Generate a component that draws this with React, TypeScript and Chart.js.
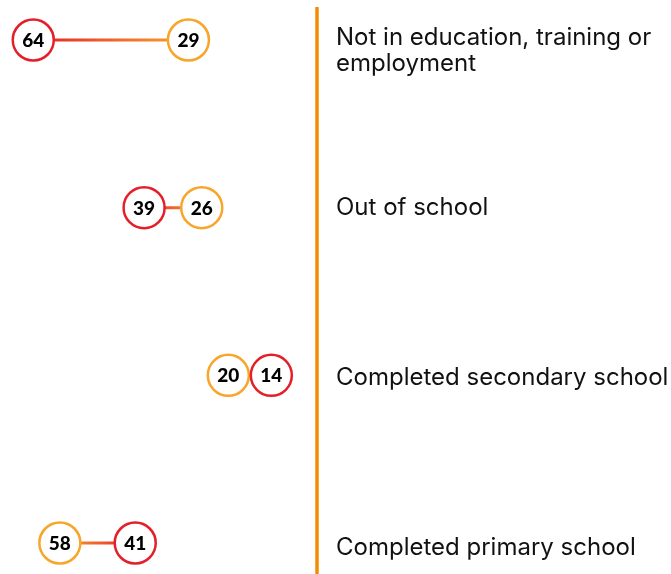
import React, { useEffect, useRef } from "react";
import { Chart, registerables } from "chart.js";
Chart.register(...registerables);

const categories: string[][] = [
  ["Not in education, training or", "employment"],
  ["Out of school"],
  ["Completed secondary school"],
  ["Completed primary school"],
];
const redValues = [64, 39, 14, 41];
const orangeValues = [29, 26, 20, 58];

const RED = "#E3202A";
const ORANGE = "#F8A52A";
const AXIS_LINE = "#F28C00";
const TEXT = "#111111";
const LABEL_FONT = "24px Inter, 'Noto Sans', sans-serif";
const NUM_FONT = "900 19px Lato, 'Noto Sans', sans-serif";
const RADIUS = 20.5;

const dumbbellPlugin = {
  id: "dumbbell",
  afterDatasetsUpdate(chart: any) {
    const a = chart.getDatasetMeta(0).data;
    const b = chart.getDatasetMeta(1).data;
    const minGap = 2 * RADIUS + 2;
    for (let i = 0; i < a.length; i++) {
      const p = a[i], q = b[i];
      if (!p || !q) continue;
      const left = p.x <= q.x ? p : q;
      const right = left === p ? q : p;
      if (right.x - left.x < minGap) right.x = left.x + minGap;
    }
  },
  beforeDatasetsDraw(chart: any) {
    const ctx = chart.ctx;
    const area = chart.chartArea;
    ctx.save();
    ctx.strokeStyle = AXIS_LINE;
    ctx.lineWidth = 3.5;
    ctx.beginPath();
    ctx.moveTo(area.right, 7);
    ctx.lineTo(area.right, chart.height);
    ctx.stroke();
    const a = chart.getDatasetMeta(0).data;
    const b = chart.getDatasetMeta(1).data;
    for (let i = 0; i < a.length; i++) {
      const p = a[i], q = b[i];
      const g = ctx.createLinearGradient(p.x, p.y, q.x, q.y);
      g.addColorStop(0, RED);
      g.addColorStop(1, ORANGE);
      ctx.strokeStyle = g;
      ctx.lineWidth = 3;
      ctx.beginPath();
      ctx.moveTo(p.x, p.y);
      ctx.lineTo(q.x, q.y);
      ctx.stroke();
    }
    ctx.restore();
  },
  afterDatasetsDraw(chart: any) {
    const ctx = chart.ctx;
    ctx.save();
    ctx.font = NUM_FONT;
    ctx.fillStyle = "#000";
    ctx.textAlign = "center";
    ctx.textBaseline = "middle";
    chart.data.datasets.forEach((ds: any, di: number) => {
      const meta = chart.getDatasetMeta(di);
      meta.data.forEach((el: any, i: number) => {
        ctx.fillText(String(ds.data[i].x), el.x, el.y + 1);
      });
    });
    ctx.restore();
  },
  afterDraw(chart: any) {
    const ctx = chart.ctx;
    const area = chart.chartArea;
    const y = chart.scales.y;
    ctx.save();
    ctx.font = LABEL_FONT;
    ctx.fillStyle = TEXT;
    ctx.textAlign = "left";
    ctx.textBaseline = "alphabetic";
    categories.forEach((lines, i) => {
      const base = y.getPixelForValue(i) + 5 + i * 2.3;
      lines.forEach((line, li) => {
        ctx.fillText(line, area.right + 19, base + li * 25.5);
      });
    });
    ctx.restore();
  },
};

export default function App() {
  const ref = useRef<HTMLCanvasElement>(null);
  useEffect(() => {
    document.body.style.margin = "0";
    const mk = (vals: number[]) => vals.map((v, i) => ({ x: v, y: i }));
    const chart = new Chart(ref.current!, {
      type: "scatter",
      data: {
        datasets: [
          {
            label: "Red",
            data: mk(redValues),
            borderColor: RED,
            backgroundColor: "#ffffff",
            pointRadius: RADIUS,
            pointHoverRadius: RADIUS,
            pointBorderWidth: 2.5,
            clip: false,
          } as any,
          {
            label: "Orange",
            data: mk(orangeValues),
            borderColor: ORANGE,
            backgroundColor: "#ffffff",
            pointRadius: RADIUS,
            pointHoverRadius: RADIUS,
            pointBorderWidth: 2.5,
            clip: false,
          } as any,
        ],
      },
      options: {
        animation: false,
        responsive: true,
        maintainAspectRatio: false,
        layout: { autoPadding: false, padding: { top: 40, bottom: 31, left: 0, right: 354 } },
        plugins: { legend: { display: false }, tooltip: { enabled: false } },
        events: [],
        scales: {
          x: { type: "linear", min: 0, max: 71.5, reverse: true, display: false },
          y: { type: "linear", min: 0, max: 3, reverse: true, display: false },
        },
      } as any,
      plugins: [dumbbellPlugin],
    });
    return () => chart.destroy();
  }, []);
  return (
    <div style={{ position: "relative", width: 671, height: 574 }}>
      <canvas ref={ref} />
    </div>
  );
}
